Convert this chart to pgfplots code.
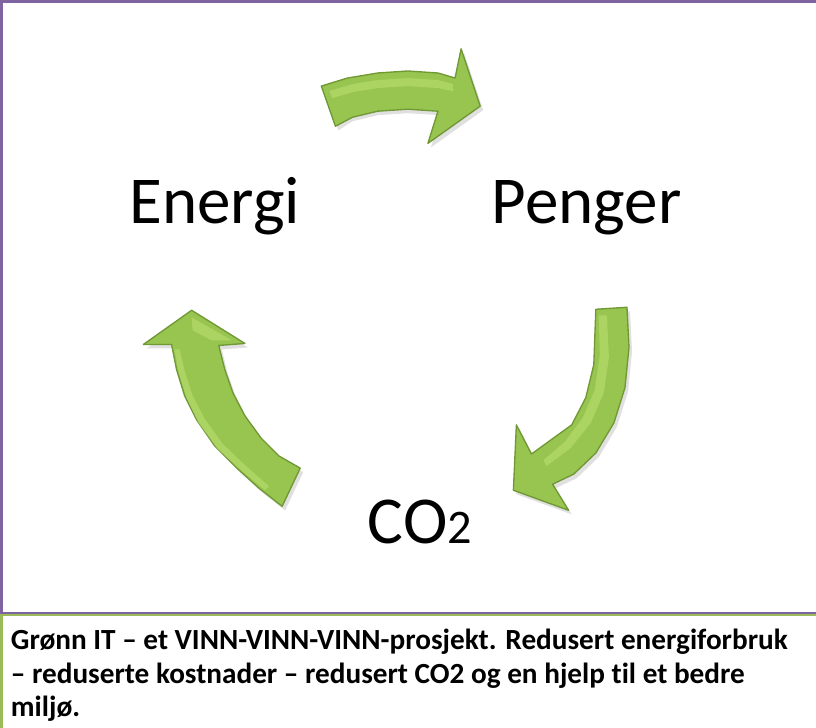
\documentclass[border=0pt]{standalone}
\usepackage{pgfplots}
\pgfplotsset{compat=1.18}
\usepackage{fontspec}
\setmainfont{Carlito}[Ligatures=NoCommon]
\definecolor{frameviolet}{RGB}{128,100,162}
\definecolor{framegreen}{RGB}{155,187,89}
\definecolor{arrowfill}{RGB}{152,197,80}
\definecolor{arrowedge}{RGB}{112,152,52}
\definecolor{arrowlight}{RGB}{178,216,104}
\begin{document}
\begin{tikzpicture}
\begin{axis}[
  width=612pt, height=546pt, scale only axis,
  xmin=0, xmax=816, ymin=0, ymax=728, y dir=reverse,
  axis lines=none, clip=true,
]
% frames
\addplot[draw=frameviolet, line width=2.4pt] coordinates {(6,615) (6,6) (900,6) (900,615)} -- cycle;
\addplot[draw=framegreen, line width=2pt] coordinates {(6,800) (6,616) (900,616) (900,800)} -- cycle;
% shadows
\addplot[fill=black, draw=none, opacity=0.12] coordinates {(327,94) (350,86) (380,81) (410,79) (440,81) (460,86) (466,57) (485,114) (433,151) (443,119) (410,117) (380,119) (355,125) (341,134)} -- cycle;
\addplot[fill=black, draw=none, opacity=0.12] coordinates {(600,316) (631,314) (633,354) (629,394) (618,429) (600,459) (578,480) (557,490) (573,516) (518,496) (521,431) (536,460) (558,444) (576,431) (590,404) (598,371)} -- cycle;
\addplot[fill=black, draw=none, opacity=0.12] coordinates {(198,317) (251,350) (225,352) (231,376) (239,399) (251,422) (267,444) (285,462) (306,474) (288,512) (265,494) (243,474) (221,452) (203,426) (191,402) (183,376) (178,351) (150,351)} -- cycle;
% top arrow
\addplot[fill=arrowfill, draw=arrowedge, line width=1pt, line join=round] coordinates {(324,90) (350,82) (380,77) (410,75) (440,77) (457,82) (463,53) (482,110) (430,147) (440,115) (410,113) (380,115) (355,121) (338,130)} -- cycle;
\addplot[fill=arrowlight, draw=none, opacity=0.8] coordinates {(332,95) (355,88) (380,84) (410,82) (440,84) (455,88) (455,95) (440,92) (410,90) (380,92) (355,96) (335,102)} -- cycle;
% right arrow
\addplot[fill=arrowfill, draw=arrowedge, line width=1pt, line join=round] coordinates {(597,312) (628,310) (630,350) (626,390) (615,425) (597,455) (575,476) (554,486) (570,512) (515,492) (518,427) (533,456) (555,440) (573,427) (587,400) (595,367)} -- cycle;
\addplot[fill=arrowlight, draw=none, opacity=0.8] coordinates {(600,318) (608,318) (610,360) (605,395) (592,425) (572,450) (548,468) (545,462) (566,444) (584,420) (596,392) (601,358)} -- cycle;
% left arrow
\addplot[fill=arrowfill, draw=arrowedge, line width=1pt, line join=round] coordinates {(195,313) (248,346) (222,348) (228,372) (236,395) (248,418) (264,440) (282,458) (303,470) (285,508) (262,490) (240,470) (218,448) (200,422) (188,398) (180,372) (175,347) (147,347)} -- cycle;
\addplot[fill=arrowlight, draw=none, opacity=0.8] coordinates {(195,320) (235,343) (215,343) (196,333)} -- cycle;
\addplot[fill=arrowlight, draw=none, opacity=0.8] coordinates {(183,352) (188,373) (196,398) (208,421) (226,446) (248,467) (272,488) (268,492) (244,472) (221,451) (202,425) (190,400) (182,374) (178,352)} -- cycle;
% labels
\node[anchor=base, inner sep=0pt] at (axis cs:218,227) {\fontsize{50}{60}\selectfont Energi};
\node[anchor=base, inner sep=0pt] at (axis cs:588,227) {\fontsize{50}{60}\selectfont Penger};
\node[anchor=base, inner sep=0pt] at (axis cs:422,545) {\fontsize{50}{60}\selectfont CO\fontsize{36}{45}\selectfont 2};
% caption
\node[anchor=base west, inner sep=0pt] at (axis cs:15,650) {\fontsize{21.8}{26}\selectfont\bfseries Grønn IT – et VINN-VINN-VINN-prosjekt. Redusert energiforbruk};
\node[anchor=base west, inner sep=0pt] at (axis cs:15,684) {\fontsize{21.8}{26}\selectfont\bfseries – reduserte kostnader – redusert CO2 og en hjelp til et bedre};
\node[anchor=base west, inner sep=0pt] at (axis cs:15,717) {\fontsize{21.8}{26}\selectfont\bfseries miljø.};
\end{axis}
\end{tikzpicture}
\end{document}
